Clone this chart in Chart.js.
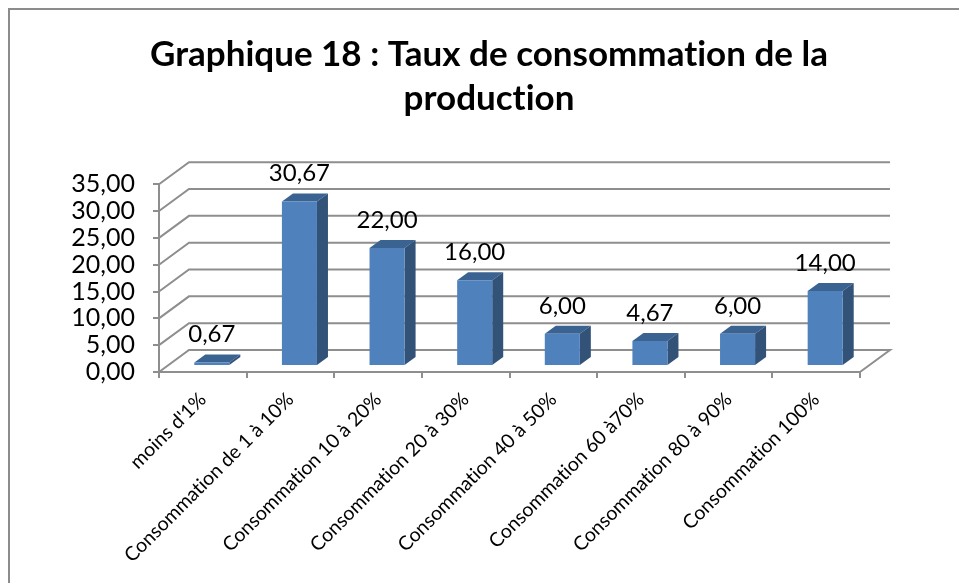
<!DOCTYPE html>
<html>
<head>
<meta charset="utf-8">
<title>Graphique 18</title>
<script src="https://cdn.jsdelivr.net/npm/chart.js@4"></script>
<style>
  html, body { margin: 0; padding: 0; background: #fff; overflow: hidden; }
  #box { position: absolute; left: 0; top: 0; width: 959px; height: 583px; }
  #frame { position: absolute; left: 8px; top: 8px; width: 951px; height: 575px; border-left: 2px solid #8c8c8c; border-top: 2px solid #8c8c8c; box-sizing: border-box; }
</style>
</head>
<body>
<div id="frame"></div>
<div id="box"><canvas id="chart" width="959" height="583"></canvas></div>
<script>
// Données du graphique
const categories = ["moins d'1%", 'Consommation de 1 à 10%', 'Consommation 10 à 20%', 'Consommation 20 à 30%',
  'Consommation 40 à 50%', 'Consommation 60 à70%', 'Consommation 80 à 90%', 'Consommation 100%'];
const values = [0.67, 30.67, 22.00, 16.00, 6.00, 4.67, 6.00, 14.00];
const titleLines = ['Graphique 18 : Taux de consommation de la', 'production'];

// Décalages de la fausse 3D (px)
const depthX = 30, depthY = 22;
const barShiftX = 9, barShiftY = 6;
const barDepthX = 11, barDepthY = 8;
const gridColor = '#8e8e8e';

const fmt = v => v.toFixed(2).replace('.', ',');

// Murs : lignes de grille en perspective
const wallPlugin = {
  id: 'wall',
  afterLayout(chart) {
    // titre centré sur le cadre, pas sur la zone du graphique
    chart.titleBlock.left = 0;
    chart.titleBlock.right = 978;
  },
  beforeDraw(chart) {
    chart.ctx.textRendering = 'optimizeSpeed';
  },
  beforeDatasetsDraw(chart) {
    const { ctx, chartArea: a, scales: { y } } = chart;
    ctx.save();
    ctx.strokeStyle = gridColor;
    ctx.lineWidth = 2;
    y.ticks.forEach(t => {
      const py = y.getPixelForValue(t.value);
      ctx.beginPath();
      ctx.moveTo(a.left, py);
      ctx.lineTo(a.left + depthX, py - depthY);
      ctx.lineTo(a.right + depthX, py - depthY);
      if (t.value === 0) ctx.lineTo(a.right, py);
      ctx.stroke();
    });
    ctx.restore();
  }
};

// Faces du dessus et de côté des barres, étiquettes
const bar3dPlugin = {
  id: 'bar3d',
  beforeDatasetDraw(chart) {
    const { ctx } = chart;
    ctx.save();
    ctx.translate(barShiftX, -barShiftY);
    chart.getDatasetMeta(0).data.forEach(b => {
      const l = b.x - b.width / 2, r = b.x + b.width / 2;
      ctx.fillStyle = '#3b6391';
      ctx.beginPath();
      ctx.moveTo(l, b.y);
      ctx.lineTo(l + barDepthX, b.y - barDepthY);
      ctx.lineTo(r + barDepthX, b.y - barDepthY);
      ctx.lineTo(r, b.y);
      ctx.fill();
      ctx.fillStyle = '#325278';
      ctx.beginPath();
      ctx.moveTo(r, b.y);
      ctx.lineTo(r + barDepthX, b.y - barDepthY);
      ctx.lineTo(r + barDepthX, b.base - barDepthY);
      ctx.lineTo(r, b.base);
      ctx.fill();
    });
  },
  afterDatasetDraw(chart) {
    chart.ctx.restore();
  },
  afterDatasetsDraw(chart) {
    const { ctx } = chart;
    ctx.save();
    ctx.fillStyle = '#000';
    ctx.font = '24px Lato';
    ctx.textAlign = 'center';
    ctx.textBaseline = 'bottom';
    chart.getDatasetMeta(0).data.forEach((b, i) => {
      ctx.fillText(fmt(values[i]), b.x + barShiftX, b.y - barShiftY - 16);
    });
    ctx.restore();
  }
};

new Chart(document.getElementById('chart'), {
  type: 'bar',
  data: {
    labels: categories,
    datasets: [{
      data: values,
      backgroundColor: '#4f81bd',
      borderWidth: 0,
      categoryPercentage: 1,
      barPercentage: 0.4
    }]
  },
  plugins: [wallPlugin, bar3dPlugin],
  options: {
    responsive: false,
    animation: false,
    layout: { padding: { left: 0, right: 99, top: 32, bottom: 0 } },
    plugins: {
      legend: { display: false },
      tooltip: { enabled: false },
      title: {
        display: true,
        text: titleLines,
        color: '#000',
        font: { family: 'Lato', size: 35, weight: 'bold', lineHeight: 1.26 },
        padding: { top: 1, bottom: 63 }
      }
    },
    scales: {
      x: {
        afterFit(s) { s.height = 211; },
        grid: { drawOnChartArea: false, color: gridColor, lineWidth: 2, tickLength: 6 },
        border: { color: gridColor, width: 2 },
        ticks: {
          color: '#000',
          font: { family: 'Lato', size: 19.5 },
          autoSkip: false,
          minRotation: 45,
          maxRotation: 45,
          padding: 10
        }
      },
      y: {
        min: 0,
        max: 35,
        afterFit(s) { s.width = 159; },
        grid: { drawOnChartArea: false, color: gridColor, lineWidth: 2, tickLength: 6 },
        border: { color: gridColor, width: 2 },
        ticks: {
          color: '#000',
          stepSize: 5,
          autoSkip: false,
          font: { family: 'Lato', size: 25 },
          padding: 18,
          callback: v => fmt(v)
        }
      }
    }
  }
});
</script>
</body>
</html>
